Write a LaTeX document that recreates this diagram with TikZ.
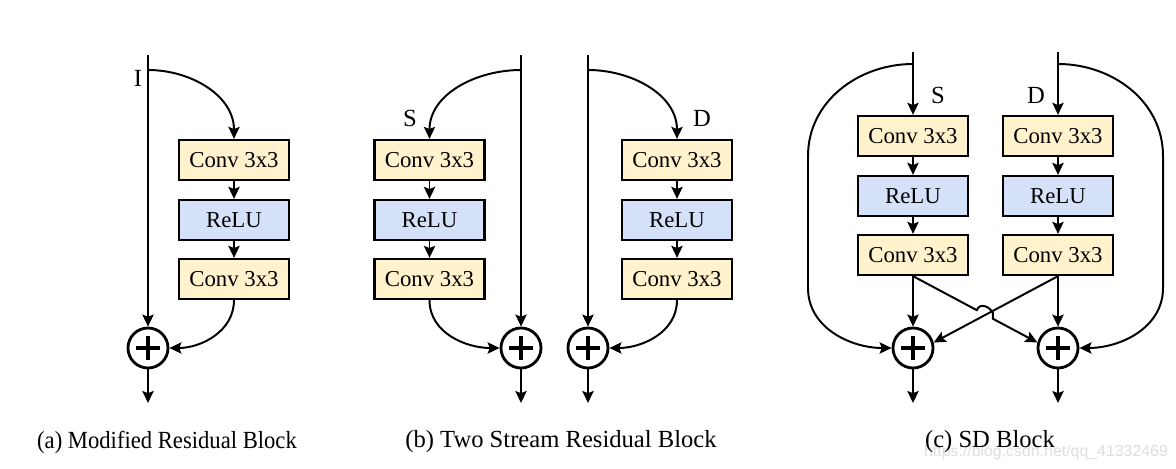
\documentclass[tikz,border=0pt]{standalone}
\usepackage{fontspec}
\setmainfont{Liberation Serif}
\newfontfamily\wmfont{Liberation Sans}
\usetikzlibrary{calc,arrows.meta}
\definecolor{convfill}{HTML}{FFF2CC}
\definecolor{relufill}{HTML}{D4E1F9}

\begin{document}
\begin{tikzpicture}[x=0.025cm, y=0.025cm,
	blk/.style={draw, line width=1.6pt, minimum width=2.75cm, minimum height=1cm, inner sep=0pt, font=\rmfamily\fontsize{16.2}{18}\selectfont},
	conv/.style={blk, fill=convfill},
	relu/.style={blk, fill=relufill},
	sum/.style={draw, circle, line width=2pt, minimum size=1cm, inner sep=0pt,
		path picture={\draw[line width=2.2pt] ($(path picture bounding box.center)+(-12,0)$) -- ($(path picture bounding box.center)+(12,0)$);
			\draw[line width=2.2pt] ($(path picture bounding box.center)+(0,-12)$) -- ($(path picture bounding box.center)+(0,12)$);}},
	flow/.style={line width=1.4pt, -{Stealth[length=8.5pt,width=8pt,inset=1.5pt]}},
	lbl/.style={font=\rmfamily\fontsize{17.5}{20}\selectfont},
	captxt/.style={font=\rmfamily\fontsize{17.5}{20}\selectfont}]
			%%%%% START %%%%%
			\useasboundingbox (0,0) rectangle (1176,468);
			
			%%%%% (a) %%%%%
			\node[conv] (aC1) at (234,308) {Conv 3x3};
			\node[relu] (aR) at (234,248) {ReLU};
			\node[conv] (aC2) at (234,189) {Conv 3x3};
			\node[sum] (aS) at (148,120) {};
			\coordinate (aIn) at (148,413);
			\coordinate (aSplit) at (148,398);
			\coordinate (aOut) at (148,65);
			\node[lbl] (aLbl) at (138,390) {I};
			
			\draw[flow] (aIn) -- (aS.north);
			\draw[flow] (aSplit) to[out=0,in=90] (aC1.north);
			\draw[flow] (aC1) -- (aR);
			\draw[flow] (aR) -- (aC2);
			\draw[flow] (aC2.south) to[out=-90,in=0] (aS.east);
			\draw[flow] (aS) -- (aOut);
			
			%%%%% (b) %%%%%
			\node[conv] (bSC1) at (429.5,308) {Conv 3x3};
			\node[relu] (bSR) at (429.5,248) {ReLU};
			\node[conv] (bSC2) at (429.5,189) {Conv 3x3};
			\node[sum] (bSS) at (521,120) {};
			\coordinate (bSIn) at (521,413);
			\coordinate (bSsplit) at (521,398);
			\coordinate (bSOut) at (521,65);
			\node[lbl] (bSLbl) at (410,350) {S};
			
			\draw[flow] (bSIn) -- (bSS.north);
			\draw[flow] (bSsplit) to[out=180,in=90] (bSC1.north);
			\draw[flow] (bSC1) -- (bSR);
			\draw[flow] (bSR) -- (bSC2);
			\draw[flow] (bSC2.south) to[out=-90,in=180] (bSS.west);
			\draw[flow] (bSS) -- (bSOut);
			
			\node[conv] (bDC1) at (677,308) {Conv 3x3};
			\node[relu] (bDR) at (677,248) {ReLU};
			\node[conv] (bDC2) at (677,189) {Conv 3x3};
			\node[sum] (bDS) at (588,120) {};
			\coordinate (bDIn) at (588,413);
			\coordinate (bDsplit) at (588,398);
			\coordinate (bDOut) at (588,65);
			\node[lbl] (bDLbl) at (702,350) {D};
			
			\draw[flow] (bDIn) -- (bDS.north);
			\draw[flow] (bDsplit) to[out=0,in=90] (bDC1.north);
			\draw[flow] (bDC1) -- (bDR);
			\draw[flow] (bDR) -- (bDC2);
			\draw[flow] (bDC2.south) to[out=-90,in=0] (bDS.east);
			\draw[flow] (bDS) -- (bDOut);
			
			%%%%% (c) %%%%%
			\node[conv] (cSC1) at (913,332) {Conv 3x3};
			\node[relu] (cSR) at (913,272) {ReLU};
			\node[conv] (cSC2) at (913,213) {Conv 3x3};
			\node[sum] (cSS) at (913,120) {};
			\coordinate (cSIn) at (913,416);
			\coordinate (cSsplit) at (913,404);
			\coordinate (cSOut) at (913,65);
			\node[lbl] (cSLbl) at (938,373) {S};
			
			\node[conv] (cDC1) at (1058,332) {Conv 3x3};
			\node[relu] (cDR) at (1058,272) {ReLU};
			\node[conv] (cDC2) at (1058,213) {Conv 3x3};
			\node[sum] (cDS) at (1058,120) {};
			\coordinate (cDIn) at (1058,416);
			\coordinate (cDsplit) at (1058,404);
			\coordinate (cDOut) at (1058,65);
			\node[lbl] (cDLbl) at (1036,373) {D};
			
			\draw[flow] (cSIn) -- (cSC1.north);
			\draw[flow] (cSC1) -- (cSR);
			\draw[flow] (cSR) -- (cSC2);
			\draw[flow] (cSC2) -- (cSS.north);
			\draw[flow] (cSS) -- (cSOut);
			\draw[flow] (cSsplit) to[out=180,in=90] (808,312) -- (808,180) to[out=-90,in=180] (cSS.west);
			
			\draw[flow] (cDIn) -- (cDC1.north);
			\draw[flow] (cDC1) -- (cDR);
			\draw[flow] (cDR) -- (cDC2);
			\draw[flow] (cDC2) -- (cDS.north);
			\draw[flow] (cDS) -- (cDOut);
			\draw[flow] (cDsplit) to[out=0,in=90] (1163,312) -- (1163,180) to[out=-90,in=0] (cDS.east);
			
			% crossing paths, with a hop
			\coordinate (hopA) at ($(cSC2.south)!0.513!(cDS.165)$);
			\coordinate (hopB) at ($(cSC2.south)!0.642!(cDS.165)$);
			\draw[flow] (cSC2.south) -- (hopA) .. controls ($(hopA)+(3,8)$) and ($(hopB)+(-3,12)$) .. ($(hopB)+(0,6)$) -- (hopB) -- (cDS.165);
			\draw[flow] (cDC2.south) -- (cSS.15);
			
			%%%%% captions %%%%%
			\node[captxt] (capA) at (167,26) {\scalebox{0.92}[1]{(a) Modified Residual Block}};
			\node[captxt] (capB) at (561,26) {(b) Two Stream Residual Block};
			\node[font=\wmfont\fontsize{11.3}{13}\selectfont, text=black!13] (wm) at (1046,16) {https://blog.csdn.net/qq\_41332469};
			\node[captxt] (capC) at (990,26) {(c) SD Block};
			
			%%%%% END %%%%%
\end{tikzpicture}
\end{document}
